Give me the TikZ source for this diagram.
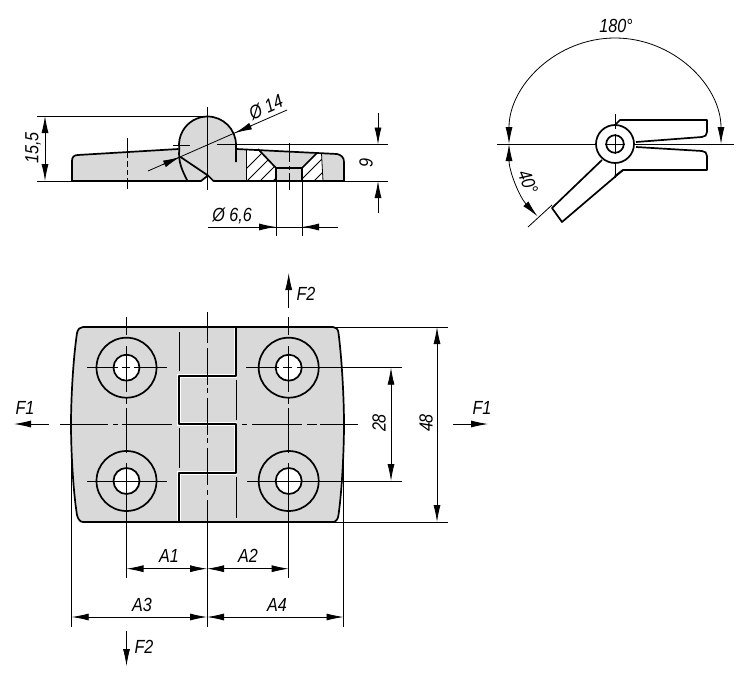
\documentclass[tikz,border=0pt]{standalone}
\usepackage{fontspec}
\setmainfont{Liberation Sans}[FakeStretch=0.85]
\usetikzlibrary{arrows.meta}

\definecolor{partgray}{gray}{0.85}
\tikzset{
    thickline/.style={line width=1.7pt,line join=round},
    thinline/.style={line width=.8pt},
    dimlabel/.style={inner sep=0pt,font=\itshape\fontsize{19}{19}\selectfont},
}

\begin{document}
\begin{tikzpicture}[>={Latex[length=17pt,width=7pt]},x=1pt,y=-1pt,thinline]
    \useasboundingbox (0,0) rectangle (750,685);

    % side view
    \fill [partgray] (72,181) -- (72,161) .. controls (72,157) and (74,155) .. (78,155) -- (178.5,149)
        arc [start angle=172, end angle=360, radius=28.5] -- (236,149) -- (337,154)
        .. controls (341,155) and (344,157) .. (344,162) -- (344,181) -- cycle;
    \fill [white] (201,181.5) -- (208,175.5) -- (213.5,181.5) -- cycle;
    \fill [white] (246,149) -- (258,149) -- (276,168) -- (276,181) -- (246,181) -- cycle;
    \fill [white] (317,153) -- (321.5,153.5) -- (323,181) -- (302,181) -- (302,168) -- cycle;
    \begin{scope}
        \clip (246,149) -- (258,149) -- (276,168) -- (276,181) -- (246,181) -- cycle
              (317,153) -- (321.5,153.5) -- (323,181) -- (302,181) -- (302,168) -- cycle;
        \foreach \h in {234,247,260,273,287,300,314}
            \draw (\h,181) -- ++(45,-45);
    \end{scope}
    \draw (246,149) -- (246,181);
    \draw (321.5,153.5) -- (323,181);
    \draw [thickline] (72,181) -- (72,161) .. controls (72,157) and (74,155) .. (78,155) -- (178.5,149);
    \draw [thickline] (236,162) -- (236,145) arc [start angle=360, end angle=172, radius=28.5]
        .. controls (178,162) and (182,170) .. (187.5,181);
    \draw [thickline] (72,181) -- (201,181) -- (208,175.5) -- (180.5,157);
    \draw [thickline] (208,175.5) -- (213.5,181) -- (344,181) -- (344,162)
        .. controls (344,157) and (341,155) .. (337,154) -- (236,149);
    \draw [thickline] (258,149) -- (276,168) -- (276,181);
    \draw [thickline] (317,153) -- (302,168) -- (302,181);
    \draw [thickline] (276,168) -- (302,168);

    \foreach \a/\b in {138/158,161/167,170/175,178/189}
        \draw (127,\a) -- (127,\b);
    \foreach \a/\b in {143/162,166/170,173/190}
        \draw (289,\a) -- (289,\b);
    \draw (207.5,107) -- (207.5,190);
    \draw (173,145) -- (190,145);
    \draw (217,144.5) -- (388,144.5);
    \draw (37,116) -- (207,116);
    \draw (37,181) -- (72,181);
    \draw (344,181) -- (388,181);
    \draw [<->] (45,116) -- (45,181);
    \draw [->] (378,113) -- (378,144.5);
    \draw [->] (378,213) -- (378,181);
    \node [dimlabel,rotate=90] (LabelHeight) at (33,148) {15,5};
    \node [dimlabel,rotate=90] (LabelDepth) at (366,163) {9};

    \draw (148,171) -- (287,110);
    \draw [->] (163,164.5) -- (180,157);
    \draw [->] (252,125.5) -- (235,133);
    \node [dimlabel,rotate=24] (LabelBall) at (266,107) {Ø 14};

    \draw (276,181) -- (276,236);
    \draw (302,181) -- (302,236);
    \draw (208,227) -- (338,227);
    \draw [->] (258,227) -- (276,227);
    \draw [->] (320,227) -- (302,227);
    \node [dimlabel] (LabelBore) at (232,216) {Ø 6,6};

    % swivel view
    \draw [thickline] (615,125) -- (620,120) -- (707,120) -- (707,132)
        .. controls (707,135) and (705,137) .. (702,137) -- (636,142);
    \draw [thickline] (636,147) -- (702,151) .. controls (705,151) and (707,153) .. (707,156)
        -- (707,170) -- (623,170) -- (615,176);
    \draw [thickline] (602,160) -- (552,208) -- (562,222) -- (623,170);
    \draw (497,144) -- (734,144);
    \draw (615,114) -- (615,178);
    \draw [thickline,fill=white] (615,144) circle (19);
    \draw [thickline] (615,144) circle (8.8);
    \draw (605,144) -- (625,144);
    \draw (615,134) -- (615,154);
    \draw (615,124) -- (615,129);
    \draw [<->] (721,144) arc [start angle=0, end angle=-180, radius=106];
    \draw [<->] (509,144) arc [start angle=180, end angle=137, radius=106];
    \draw (528,227) -- (552,205);
    \node [dimlabel] (LabelOpen) at (616,26) {180°};
    \node [dimlabel,rotate=-68] (LabelClosed) at (528,182) {40°};

    % top view
    \fill [partgray] (83,327) -- (333,327) .. controls (336,327) and (338,329) .. (338.5,333)
        .. controls (342,360) and (344,400) .. (344,424) .. controls (344,450) and (342,490) .. (338.5,515)
        .. controls (338,519) and (336,522) .. (333,522) -- (83,522)
        .. controls (80,522) and (78,519) .. (77,515) .. controls (73,490) and (71,450) .. (71,424)
        .. controls (71,400) and (73,360) .. (77,333) .. controls (78,329) and (80,327) .. (83,327) -- cycle;
    \draw [thickline] (83,327) -- (333,327) .. controls (336,327) and (338,329) .. (338.5,333)
        .. controls (342,360) and (344,400) .. (344,424) .. controls (344,450) and (342,490) .. (338.5,515)
        .. controls (338,519) and (336,522) .. (333,522) -- (83,522)
        .. controls (80,522) and (78,519) .. (77,515) .. controls (73,490) and (71,450) .. (71,424)
        .. controls (71,400) and (73,360) .. (77,333) .. controls (78,329) and (80,327) .. (83,327) -- cycle;
    \draw [white,line width=3.4pt] (235.7,328) -- (235.7,376) -- (179,376) -- (179,424) -- (235.7,424)
        -- (235.7,473) -- (179,473) -- (179,521);
    \draw [thickline] (235.7,327) -- (235.7,376) -- (179,376) -- (179,424) -- (235.7,424)
        -- (235.7,473) -- (179,473) -- (179,522);
    \draw (179,332) -- (179,371);
    \draw (179,428) -- (179,468);
    \draw (236,380) -- (236,420);
    \draw (236,477) -- (236,518);

    \foreach \x in {126.5,288.7}
        \foreach \y in {367.7,481} {
            \draw [thickline] (\x,\y) circle (30);
            \draw [thickline,fill=white] (\x,\y) circle (13);
        }
    % center lines
    \foreach \a/\b in {60/108,113/118,122/172,242/247,252/302,307/317,320/358}
        \draw (\a,424) -- (\b,424);
    \foreach \a/\b in {312/342,338/343,348/385,388/393,398/435,438/443,448/485,490/495,500/627}
        \draw (207,\a) -- (207,\b);
    \foreach \x in {126.5,288.7}
        \foreach \a/\b in {317/335,346/392,398/404,408/453,463/578}
            \draw (\x,\a) -- (\x,\b);
    \foreach \a/\b in {87/118,122/130,134/167}
        \draw (\a,367.7) -- (\b,367.7);
    \draw (87,481) -- (167,481);
    \foreach \a/\b in {246/279,283/292,297/402}
        \draw (\a,367.7) -- (\b,367.7);
    \draw (247,481) -- (402,481);

    % dimensions of the top view
    \draw (333,327) -- (448,327);
    \draw (333,522) -- (448,522);
    \draw (71.7,424) -- (71.7,627);
    \draw (343.5,424) -- (343.5,627);
    \draw [<->] (437,327) -- (437,522);
    \draw [<->] (391,367.7) -- (391,481);
    \draw [<->] (126.5,568.7) -- (207,568.7);
    \draw [<->] (207,568.7) -- (288.7,568.7);
    \draw [<->] (71.7,617) -- (207,617);
    \draw [<->] (207,617) -- (343.5,617);
    \foreach \t/\x/\y in {A1/169/556,A2/248/556,A3/142/605,A4/277/605}
        \node [dimlabel] (Label\t) at (\x,\y) {\t};
    \node [dimlabel,rotate=90] (LabelPitch) at (379,423) {28};
    \node [dimlabel,rotate=90] (LabelWidth) at (426,423) {48};

    % forces
    \draw [->] (49,424) -- (14,424);
    \draw [->] (453,424) -- (488,424);
    \draw [->] (288.7,308) -- (288.7,273);
    \draw [->] (126.5,631) -- (126.5,666);
    \node [dimlabel] (ForceLeft) at (25,408) {F1};
    \node [dimlabel] (ForceRight) at (482,408) {F1};
    \node [dimlabel] (ForceTop) at (306,294) {F2};
    \node [dimlabel] (ForceBottom) at (144,647) {F2};
\end{tikzpicture}
\end{document}
